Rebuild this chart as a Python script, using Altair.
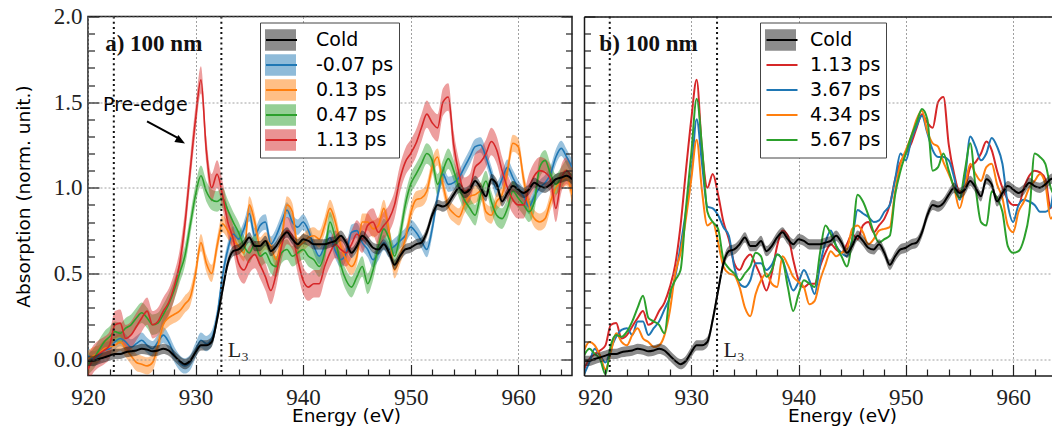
import altair as alt
import numpy as np
import pandas as pd

# ---------------- data ----------------
ENERGY = np.round(np.arange(920.0, 965.01, 0.5), 1).tolist()  # 0.5 eV sampling grid

COLD = [-0.01, -0.01, 0.00, 0.01, 0.02, 0.03, 0.03, 0.04, 0.045, 0.05,
        0.06, 0.055, 0.045, 0.05, 0.06, 0.05, 0.02, -0.01, -0.03, -0.01,
        0.04, 0.08, 0.08, 0.10, 0.23, 0.40, 0.56, 0.63, 0.64, 0.67,
        0.71, 0.66, 0.66, 0.69, 0.63, 0.66, 0.71, 0.74, 0.70, 0.67,
        0.70, 0.69, 0.67, 0.67, 0.67, 0.68, 0.69, 0.72, 0.68, 0.62,
        0.66, 0.72, 0.69, 0.65, 0.64, 0.67, 0.62, 0.55, 0.60, 0.64,
        0.65, 0.67, 0.68, 0.74, 0.84, 0.90, 0.89, 0.91, 0.96, 1.00,
        0.97, 0.99, 1.04, 1.00, 0.95, 1.05, 1.02, 0.92, 0.97, 1.01,
        0.99, 0.97, 0.99, 1.03, 1.01, 1.00, 1.02, 1.05, 1.06, 1.07,
        1.05]

RED_113 = [-0.06, 0.00, 0.03, 0.05, 0.08, 0.20, 0.21, 0.12, 0.14, 0.19,
           0.24, 0.28, 0.20, 0.22, 0.28, 0.33, 0.42, 0.55, 0.78, 1.10,
           1.40, 1.63, 1.22, 1.00, 1.08, 0.96, 0.80, 0.70, 0.56, 0.52,
           0.58, 0.61, 0.55, 0.48, 0.40, 0.50, 0.66, 0.75, 0.72, 0.58,
           0.46, 0.42, 0.44, 0.44, 0.54, 0.62, 0.67, 0.64, 0.62, 0.67,
           0.73, 0.70, 0.78, 0.80, 0.74, 0.78, 0.82, 0.90, 1.05, 1.15,
           1.20, 1.26, 1.35, 1.43, 1.38, 1.35, 1.50, 1.53, 1.25, 1.08,
           0.98, 1.00, 1.12, 1.15, 1.20, 1.27, 1.22, 1.10, 1.00, 0.93,
           0.90, 0.90, 1.00, 1.07, 1.10, 1.09, 1.05, 0.88, 1.05, 1.10,
           1.05]

BLUE_M007 = [0.02, 0.00, 0.02, 0.05, 0.06, 0.10, 0.12, 0.10, 0.07, 0.09,
             0.11, 0.08, 0.06, 0.10, 0.14, 0.10, 0.03, -0.02, -0.04, -0.02,
             0.05, 0.11, 0.09, 0.12, 0.25, 0.48, 0.64, 0.73, 0.70, 0.76,
             0.85, 0.72, 0.78, 0.80, 0.67, 0.72, 0.80, 0.87, 0.80, 0.77,
             0.80, 0.75, 0.66, 0.60, 0.66, 0.71, 0.63, 0.58, 0.62, 0.74,
             0.75, 0.68, 0.64, 0.58, 0.62, 0.68, 0.64, 0.66, 0.69, 0.72,
             0.77, 0.74, 0.69, 0.64, 0.76, 0.95, 1.08, 1.02, 1.03, 1.06,
             1.12, 1.18, 1.24, 1.25, 1.18, 1.08, 0.99, 1.05, 1.12, 1.06,
             1.00, 0.95, 0.89, 0.95, 1.00, 1.03, 1.08, 1.18, 1.23, 1.18,
             1.12]

ORANGE_013 = [0.00, 0.02, 0.03, 0.06, 0.07, 0.08, 0.10, 0.06, 0.02, -0.02,
              -0.03, -0.04, -0.02, 0.08, 0.20, 0.24, 0.26, 0.28, 0.32, 0.36,
              0.50, 0.68, 0.56, 0.50, 0.66, 0.79, 0.75, 0.70, 0.66, 0.62,
              0.90, 0.80, 0.66, 0.69, 0.66, 0.58, 0.70, 0.90, 0.86, 0.66,
              0.68, 0.71, 0.72, 0.70, 0.78, 0.88, 0.80, 0.66, 0.58, 0.54,
              0.60, 0.80, 0.80, 0.76, 0.78, 0.88, 0.74, 0.52, 0.60, 0.70,
              0.85, 0.93, 0.94, 0.98, 1.12, 1.18, 1.02, 0.89, 0.85, 0.83,
              0.90, 0.95, 0.96, 0.98, 0.86, 0.84, 0.92, 0.96, 1.10, 1.26,
              1.24, 1.05, 0.90, 0.82, 0.80, 0.82, 0.92, 1.00, 1.04, 1.06,
              0.96]

GREEN_047 = [-0.03, 0.00, 0.05, 0.10, 0.13, 0.16, 0.15, 0.18, 0.20, 0.24,
             0.27, 0.24, 0.20, 0.21, 0.26, 0.32, 0.40, 0.50, 0.60, 0.78,
             0.96, 1.07, 0.98, 0.93, 0.92, 0.94, 0.87, 0.80, 0.74, 0.66,
             0.62, 0.67, 0.60, 0.62, 0.56, 0.54, 0.62, 0.64, 0.60, 0.62,
             0.64, 0.60, 0.58, 0.54, 0.62, 0.80, 0.70, 0.55, 0.46, 0.42,
             0.48, 0.54, 0.44, 0.52, 0.66, 0.76, 0.70, 0.60, 0.72, 0.90,
             1.02, 1.08, 1.14, 1.20, 1.16, 1.02, 1.10, 1.17, 1.10, 1.00,
             0.93, 0.88, 0.84, 0.96, 1.04, 0.92, 0.84, 0.82, 0.88, 0.98,
             0.94, 0.90, 0.86, 0.92, 1.12, 1.16, 1.08, 1.02, 1.06, 1.10,
             1.06]

BLUE_367 = [-0.09, -0.02, 0.06, 0.02, -0.02, 0.06, 0.13, 0.17, 0.18, 0.14,
            0.22, 0.22, 0.14, 0.18, 0.22, 0.29, 0.36, 0.48, 0.66, 0.86,
            1.08, 1.40, 1.14, 0.89, 0.88, 0.84, 0.77, 0.72, 0.54, 0.44,
            0.42, 0.46, 0.56, 0.56, 0.52, 0.55, 0.61, 0.58, 0.48, 0.40,
            0.45, 0.52, 0.46, 0.38, 0.55, 0.68, 0.75, 0.66, 0.62, 0.60,
            0.70, 0.87, 0.85, 0.83, 0.80, 0.81, 0.86, 0.90, 1.05, 1.20,
            1.16, 1.28, 1.36, 1.42, 1.32, 1.22, 1.18, 1.18, 1.16, 1.06,
            0.93, 1.05, 1.30, 1.24, 1.16, 1.20, 1.29, 1.24, 1.14, 0.90,
            0.80, 0.90, 0.93, 0.92, 0.90, 0.86, 0.86, 0.89, 1.10, 1.20,
            1.25]

ORANGE_434 = [0.05, 0.10, 0.08, 0.02, -0.06, 0.04, 0.15, 0.10, 0.08, 0.14,
              0.18, 0.12, 0.10, 0.07, 0.08, 0.14, 0.28, 0.50, 0.62, 0.82,
              1.05, 1.28, 0.98, 0.78, 0.80, 0.68, 0.54, 0.50, 0.49, 0.42,
              0.30, 0.25, 0.38, 0.46, 0.50, 0.44, 0.42, 0.60, 0.55, 0.48,
              0.45, 0.42, 0.32, 0.34, 0.46, 0.55, 0.63, 0.60, 0.62, 0.64,
              0.76, 0.78, 0.74, 0.67, 0.70, 0.75, 0.76, 0.77, 0.98, 1.14,
              1.22, 1.30, 1.40, 1.45, 1.33, 1.26, 1.24, 1.15, 1.08, 1.00,
              0.88, 1.00, 1.14, 1.08, 1.04, 1.12, 1.14, 1.02, 0.94, 0.78,
              0.74, 0.86, 0.92, 1.00, 1.04, 1.08, 1.02, 0.82, 0.90, 1.10,
              1.12]

GREEN_567 = [0.02, 0.06, 0.03, 0.00, -0.09, 0.08, 0.14, 0.13, 0.16, 0.22,
             0.30, 0.37, 0.24, 0.22, 0.20, 0.15, 0.38, 0.46, 0.52, 0.88,
             1.20, 1.52, 1.24, 0.86, 0.80, 0.76, 0.58, 0.53, 0.50, 0.46,
             0.50, 0.54, 0.62, 0.60, 0.48, 0.52, 0.61, 0.58, 0.42, 0.28,
             0.38, 0.46, 0.44, 0.42, 0.62, 0.78, 0.73, 0.66, 0.60, 0.54,
             0.70, 0.96, 0.92, 0.84, 0.74, 0.68, 0.70, 0.72, 0.96, 1.10,
             1.20, 1.30, 1.38, 1.46, 1.40, 1.10, 1.12, 1.20, 1.10, 1.00,
             0.94, 1.10, 1.26, 1.00, 0.80, 0.78, 0.98, 0.94, 0.86, 0.66,
             0.62, 0.63, 0.70, 0.85, 1.20, 1.18, 1.14, 1.00, 0.95, 1.25,
             1.40]

LEFT_NAMES = ["-0.07 ps", "0.13 ps", "0.47 ps", "1.13 ps"]
RIGHT_NAMES = ["1.13 ps", "3.67 ps", "4.34 ps", "5.67 ps"]
LEFT_ERR = [0.045, 0.05, 0.06, 0.08]
COLD_ERR = 0.03
EDGE_LINES = [922.4, 932.4]
X_MAJOR = [920, 930, 940, 950, 960]
X_MINOR = [922, 924, 926, 928, 932, 934, 936, 938, 942, 944, 946, 948,
           952, 954, 956, 958, 962, 964]
Y_MAJOR = [0.0, 0.5, 1.0, 1.5, 2.0]
Y_MINOR = [0.1, 0.2, 0.3, 0.4, 0.6, 0.7, 0.8, 0.9, 1.1, 1.2, 1.3, 1.4,
           1.6, 1.7, 1.8, 1.9]

BLUE, ORANGE, GREEN, RED = "#1f77b4", "#ff7f0e", "#2ca02c", "#d62728"
SP = " "  # suffix keeping the line legend's domain distinct from the band legend's


def long_df(names, series, errs):
    rows = []
    for name, vals, err in zip(names, series, errs):
        for e, v in zip(ENERGY, vals):
            rows.append({"E": e, "v": v, "lo": v - err, "hi": v + err,
                         "series": name, "series_s": name + SP})
    return pd.DataFrame(rows)


left_df = long_df(LEFT_NAMES, [BLUE_M007, ORANGE_013, GREEN_047, RED_113], LEFT_ERR)
right_df = long_df(RIGHT_NAMES, [RED_113, BLUE_367, ORANGE_434, GREEN_567], [0, 0, 0, 0])
cold_df = long_df(["Cold"], [COLD], [COLD_ERR])

# ---------------- styling helpers ----------------
SERIF = "Liberation Serif"
SANS = "DejaVu Sans"
Y_DOM = [-0.096, 2.0]
H = 359
EDGE = "#1a1a1a"


def x_major_axis(first_shift=0):
    kw = {}
    if first_shift:
        kw["labelOffset"] = alt.condition("datum.value == 920",
                                          alt.value(first_shift), alt.value(0))
    return alt.Axis(orient="bottom", values=X_MAJOR, tickSize=11, offset=-11,
                    domain=False, grid=True, gridDash=[2, 2], gridColor="#888",
                    gridWidth=0.8, labelFont=SERIF, labelFontSize=23,
                    labelColor="#222", labelPadding=11, labelFlush=False,
                    tickColor="#222", tickWidth=1.2, title="Energy (eV)",
                    titleFont=SANS, titleFontSize=18.5, titleFontWeight="normal",
                    titleColor="black", titlePadding=-3, titleX=258, **kw)


def x_minor_axis():
    return alt.Axis(orient="bottom", values=X_MINOR, tickSize=6.5, offset=-6.5,
                    domain=False, grid=False, labels=False, title=None,
                    tickColor="#222", tickWidth=1.2, zindex=1)


def edge_axis(orient):
    return alt.Axis(orient=orient, domain=True, domainColor=EDGE, domainWidth=1.5,
                    ticks=False, labels=False, grid=False, title=None, zindex=2)


def y_major_axis(orient, labels, title):
    kw = dict(orient=orient, values=Y_MAJOR, tickSize=11, offset=-11,
              domain=False, tickColor="#222", tickWidth=1.2, zindex=1)
    if orient == "left":
        kw.update(grid=True, gridDash=[2, 2], gridColor="#888", gridWidth=0.8)
    else:
        kw.update(grid=False)
    if labels:
        kw.update(labels=True, format=".1f", labelFont=SERIF, labelFontSize=23,
                  labelColor="#222", labelPadding=6)
    else:
        kw.update(labels=False)
    if title:
        kw.update(title=title, titleFont=SANS, titleFontSize=18.5,
                  titleFontWeight="normal", titleColor="black", titlePadding=20)
    else:
        kw.update(title=None)
    return alt.Axis(**kw)


def y_minor_axis(orient):
    return alt.Axis(orient=orient, values=Y_MINOR, tickSize=6.5, offset=-6.5,
                    domain=False, grid=False, labels=False, title=None,
                    tickColor="#222", tickWidth=1.2, zindex=1)


def xenc(dom, axis):
    return alt.X("E:Q", scale=alt.Scale(domain=dom, nice=False, zero=False), axis=axis)


def yenc(field, axis):
    return alt.Y(field, scale=alt.Scale(domain=Y_DOM, nice=False, zero=False), axis=axis)


RECT = "M-1,-0.7H1V0.7H-1Z"


def fill_legend(lx, loff):
    return alt.Legend(orient="none", legendX=lx, legendY=6, title=None,
                      symbolType=RECT, symbolSize=961, symbolOpacity=0.5,
                      symbolStrokeWidth=0, labelFont=SANS, labelFontSize=19,
                      labelColor="black", labelOffset=loff, rowPadding=0,
                      clipHeight=25, padding=5, strokeColor="#444",
                      fillColor="white", labelLimit=300, zindex=3)


def stroke_legend(lx, loff, sw):
    return alt.Legend(orient="none", legendX=lx, legendY=6, title=None,
                      symbolType="stroke", symbolSize=961, symbolStrokeWidth=sw,
                      labelFont=SANS, labelFontSize=19, labelOpacity=0,
                      labelOffset=loff, rowPadding=0, clipHeight=25, padding=5,
                      labelLimit=300, zindex=4)


def annotations(dom, label_x, label_text, with_arrow, top_axis):
    layers = []
    rules = alt.Chart(pd.DataFrame({"E": EDGE_LINES})).mark_rule(
        strokeDash=[2, 3.2], strokeWidth=2, color="#111").encode(x=xenc(dom, top_axis))
    layers.append(rules)
    lab = alt.Chart(pd.DataFrame({"E": [label_x], "v": [1.80], "t": [label_text]})).mark_text(
        font=SERIF, fontSize=23, fontWeight="bold", align="left", baseline="alphabetic",
        color="#111").encode(x=xenc(dom, None), y=yenc("v:Q", None), text="t:N")
    layers.append(lab)
    l3 = alt.Chart(pd.DataFrame({"E": [933.0], "v": [0.01], "t": ["L₃"]})).mark_text(
        font=SERIF, fontSize=22, align="left", baseline="alphabetic",
        color="#222").encode(x=xenc(dom, None), y=yenc("v:Q", None), text="t:N")
    layers.append(l3)
    if with_arrow:
        pre = alt.Chart(pd.DataFrame({"E": [921.4], "v": [1.451], "t": ["Pre-edge"]})).mark_text(
            font=SANS, fontSize=19, align="left", baseline="alphabetic",
            color="black").encode(x=xenc(dom, None), y=yenc("v:Q", None), text="t:N")
        arrow_df = pd.DataFrame({"E": [925.49], "v": [1.387], "E2": [928.6], "v2": [1.282]})
        shaft = alt.Chart(arrow_df).mark_rule(strokeWidth=2, color="black").encode(
            x=xenc(dom, None), y=yenc("v:Q", None), x2="E2:Q", y2="v2:Q")
        head = alt.Chart(pd.DataFrame({"E": [929.02], "v": [1.258]})).mark_point(
            shape="M0,0L-2,-0.8L-2,0.8Z", filled=True, size=100, angle=30,
            color="black", opacity=1).encode(x=xenc(dom, None), y=yenc("v:Q", None))
        layers += [pre, shaft, head]
    return layers


# ---------------- left panel ----------------
L_DOM = [920, 965]
L_DOMAIN = ["Cold"] + LEFT_NAMES
l_fill = alt.Scale(domain=L_DOMAIN, range=[EDGE, BLUE, ORANGE, GREEN, RED])
l_stroke = alt.Scale(domain=[n + SP for n in L_DOMAIN],
                     range=["#000000", BLUE, ORANGE, GREEN, RED])

l_areas = alt.Chart(left_df).mark_area(interpolate="monotone", fillOpacity=0.45, clip=True).encode(
    x=xenc(L_DOM, x_major_axis()),
    y=yenc("lo:Q", y_major_axis("left", True, "Absorption (norm. unit.)")),
    y2="hi:Q",
    fill=alt.Fill("series:N", scale=l_fill, legend=fill_legend(172, 20)),
)
l_lines = alt.Chart(left_df).mark_line(interpolate="monotone", strokeWidth=1.6, clip=True).encode(
    x=xenc(L_DOM, x_minor_axis()),
    y=yenc("v:Q", y_minor_axis("left")),
    stroke=alt.Stroke("series_s:N", scale=l_stroke, legend=stroke_legend(172, 20, 2)),
)
l_cold_area = alt.Chart(cold_df).mark_area(interpolate="monotone", fillOpacity=0.5, clip=True).encode(
    x=xenc(L_DOM, None),
    y=yenc("lo:Q", y_major_axis("right", False, None)),
    y2="hi:Q",
    fill=alt.Fill("series:N", scale=l_fill, legend=fill_legend(172, 20)),
)
l_cold_line = alt.Chart(cold_df).mark_line(interpolate="monotone", strokeWidth=2, clip=True).encode(
    x=xenc(L_DOM, None),
    y=yenc("v:Q", y_minor_axis("right")),
    stroke=alt.Stroke("series_s:N", scale=l_stroke, legend=stroke_legend(172, 20, 2)),
)
left = alt.layer(
    l_areas, l_lines, l_cold_area, l_cold_line,
    *annotations(L_DOM, 921.6, "a) 100 nm", True, None)
).resolve_axis(x="independent", y="independent").properties(
    width=484, height=H, view=alt.ViewBackground(stroke=EDGE, strokeWidth=1.5))

# ---------------- right panel (cut off at the right edge) ----------------
R_W = 468
R_DOM = [920, 963.62]
R_DOMAIN = ["Cold"] + RIGHT_NAMES
r_fill = alt.Scale(domain=R_DOMAIN, range=[EDGE, "transparent", "transparent",
                                           "transparent", "transparent"])
r_stroke = alt.Scale(domain=[n + SP for n in R_DOMAIN],
                     range=["#000000", RED, BLUE, ORANGE, GREEN])

r_lines = alt.Chart(right_df).mark_line(interpolate="monotone", strokeWidth=2, clip=True).encode(
    x=xenc(R_DOM, x_major_axis(11)),
    y=yenc("v:Q", y_major_axis("left", False, None)),
    stroke=alt.Stroke("series_s:N", scale=r_stroke, legend=stroke_legend(176, 14, 2.2)),
)
r_cold_area = alt.Chart(cold_df).mark_area(interpolate="monotone", fillOpacity=0.5, clip=True).encode(
    x=xenc(R_DOM, x_minor_axis()),
    y=yenc("lo:Q", y_minor_axis("left")),
    y2="hi:Q",
    fill=alt.Fill("series:N", scale=r_fill, legend=fill_legend(176, 14)),
)
r_cold_line = alt.Chart(cold_df).mark_line(interpolate="monotone", strokeWidth=2, clip=True).encode(
    x=xenc(R_DOM, edge_axis("bottom")),
    y=yenc("v:Q", edge_axis("left")),
    stroke=alt.Stroke("series_s:N", scale=r_stroke, legend=stroke_legend(176, 14, 2.2)),
)
right = alt.layer(
    r_lines, r_cold_area, r_cold_line,
    *annotations(R_DOM, 921.43, "b) 100 nm", False, edge_axis("top"))
).resolve_axis(x="independent", y="independent").properties(
    width=R_W, height=H, view=alt.ViewBackground(stroke="transparent", strokeWidth=0))

chart = alt.hconcat(left, right, spacing=12).resolve_scale(
    x="independent", y="independent", fill="independent", stroke="independent"
).resolve_legend(fill="independent", stroke="independent").properties(
    bounds="flush", padding={"left": 5, "top": -3.5, "right": 0, "bottom": 0}
).configure(background="white")

chart.save("out.html", embed_options={"renderer": "svg", "actions": False})
